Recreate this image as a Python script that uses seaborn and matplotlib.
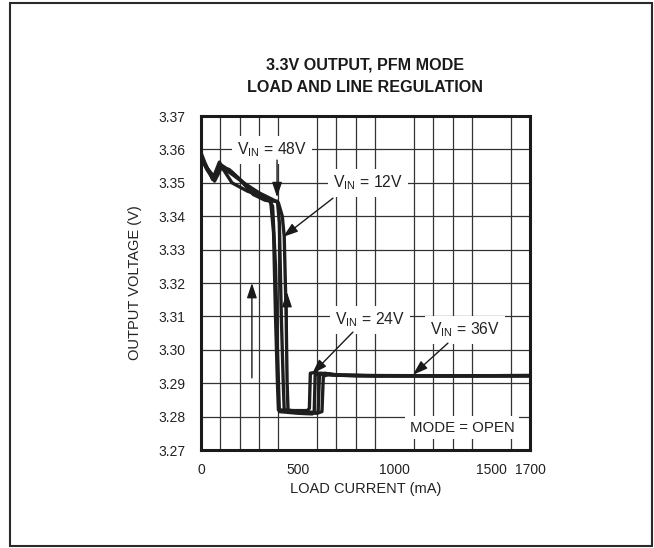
import matplotlib
matplotlib.use("Agg")
import matplotlib.pyplot as plt
import numpy as np
import pandas as pd
import seaborn as sns
from matplotlib.patches import Rectangle

# load current (mA) / output voltage (V) for each input voltage
VIN_12_X = [0, 30, 65, 100, 150, 220, 300, 370, 400, 420, 430, 440, 445, 450, 520, 600, 625, 632, 660, 720, 900, 1300, 1700]
VIN_12_Y = [3.3580, 3.3545, 3.3520, 3.3550, 3.3530, 3.3500, 3.3470, 3.3450, 3.3440, 3.3400, 3.3340, 3.3100,
            3.2900, 3.2815, 3.2812, 3.2810, 3.2815, 3.2920, 3.2928, 3.2924, 3.2922, 3.2922, 3.2923]

VIN_24_X = [0, 20, 60, 95, 110, 160, 240, 320, 360, 375, 385, 395, 400, 480, 550, 560, 565, 590, 650, 800, 1200, 1700]
VIN_24_Y = [3.3590, 3.3560, 3.3510, 3.3562, 3.3545, 3.3500, 3.3475, 3.3458, 3.3445, 3.3350, 3.3100, 3.2900,
            3.2820, 3.2818, 3.2818, 3.2825, 3.2930, 3.2932, 3.2925, 3.2922, 3.2922, 3.2922]

VIN_36_X = [0, 25, 65, 100, 160, 230, 310, 350, 370, 385, 395, 405, 500, 575, 585, 590, 620, 680, 900, 1300, 1700]
VIN_36_Y = [3.3585, 3.3550, 3.3515, 3.3555, 3.3532, 3.3495, 3.3462, 3.3450, 3.3430, 3.3250, 3.3000, 3.2815,
            3.2810, 3.2808, 3.2815, 3.2925, 3.2930, 3.2925, 3.2923, 3.2922, 3.2922]

VIN_48_X = [0, 30, 70, 105, 145, 200, 270, 330, 360, 395, 405, 415, 425, 430, 520, 605, 612, 640, 700, 900, 1300, 1700]
VIN_48_Y = [3.3575, 3.3540, 3.3505, 3.3545, 3.3540, 3.3510, 3.3465, 3.3448, 3.3445, 3.3445, 3.3380, 3.3100,
            3.2900, 3.2820, 3.2815, 3.2812, 3.2925, 3.2930, 3.2924, 3.2922, 3.2922, 3.2923]

SERIES = {"12V": (VIN_12_X, VIN_12_Y), "24V": (VIN_24_X, VIN_24_Y),
          "36V": (VIN_36_X, VIN_36_Y), "48V": (VIN_48_X, VIN_48_Y)}

Y_TICKS = [3.27, 3.28, 3.29, 3.30, 3.31, 3.32, 3.33, 3.34, 3.35, 3.36, 3.37]
X_TICKS = [0, 500, 1000, 1500, 1700]

FONT = ["Liberation Sans Narrow", "Liberation Sans", "DejaVu Sans"]

sns.set_style("white")
plt.rcParams["font.family"] = FONT
plt.rcParams["mathtext.fontset"] = "custom"
plt.rcParams["mathtext.rm"] = "Liberation Sans"
plt.rcParams["mathtext.it"] = "Liberation Sans"

frames = []
for name, (xs, ys) in SERIES.items():
    part = pd.DataFrame({"current": xs, "voltage": ys})
    part["vin"] = name
    frames.append(part)
data = pd.concat(frames, ignore_index=True)

fig = plt.figure(figsize=(6.54, 5.48), dpi=100)
ax = fig.add_axes([201 / 654, 98 / 548, 329 / 654, 334 / 548])

sns.lineplot(data=data, x="current", y="voltage", hue="vin", units="vin", estimator=None, sort=False,
             palette=["#1e1e1e"] * 4, linewidth=2.4, legend=False, ax=ax, zorder=3)

ax.set_xlim(0, 1700)
ax.set_ylim(3.27, 3.37)
ax.set_xticks(X_TICKS)
ax.set_xticks(np.arange(0, 1701, 100), minor=True)
ax.set_yticks(Y_TICKS)
ax.set_yticklabels([f"{t:.2f}" for t in Y_TICKS])
ax.grid(True, which="minor", axis="x", color="#333333", linewidth=0.9)
ax.grid(True, which="major", axis="y", color="#333333", linewidth=0.9)
ax.tick_params(axis="both", which="both", length=0, labelsize=10, colors="#222222")
ax.tick_params(axis="y", pad=11)
ax.tick_params(axis="x", pad=9)
for spine in ax.spines.values():
    spine.set_visible(True)
    spine.set_linewidth(2.2)
    spine.set_color("#1a1a1a")
    spine.set_zorder(5)

ax.set_xlabel("LOAD CURRENT (mA)", fontsize=10.5, color="#222222", labelpad=4)
ax.set_ylabel("OUTPUT VOLTAGE (V)", fontsize=10.5, color="#222222", labelpad=12)

fig.text(365 / 654, 1 - 65 / 548, "3.3V OUTPUT, PFM MODE", ha="center", va="center",
         fontsize=11.6, fontweight="bold", color="#1a1a1a")
fig.text(365 / 654, 1 - 88 / 548, "LOAD AND LINE REGULATION", ha="center", va="center",
         fontsize=11.6, fontweight="bold", color="#1a1a1a")

box = dict(boxstyle="square,pad=0.3", facecolor="white", edgecolor="none")
arrow = dict(arrowstyle="-|>,head_length=0.9,head_width=0.3", color="#1a1a1a", lw=1.0, shrinkA=0, shrinkB=0)

labels = [
    ("V$_{\\rm IN}$ = 48V", (367, 3.3598)),
    ("V$_{\\rm IN}$ = 12V", (863, 3.3499)),
    ("V$_{\\rm IN}$ = 24V", (873, 3.3089)),
    ("V$_{\\rm IN}$ = 36V", (1364, 3.3059)),
]
for text, pos in labels:
    ax.text(pos[0], pos[1], text, ha="center", va="center", fontsize=11.3, color="#222222",
            bbox=box, zorder=6)
ax.text(1349, 3.2766, "MODE = OPEN", ha="center", va="center", fontsize=10.8, color="#222222",
        bbox=box, zorder=6)

pointers = [
    ((393, 3.3568), (393, 3.3457)),
    ((682, 3.3454), (424, 3.3338)),
    ((785, 3.3053), (574, 3.2928)),
    ((1276, 3.3020), (1095, 3.2925)),
    ((263, 3.2916), (263, 3.3200)),
    ((444, 3.3000), (444, 3.3173)),
]
for start, end in pointers:
    ax.annotate("", xy=end, xytext=start, arrowprops=arrow, zorder=7)

fig.add_artist(Rectangle((10 / 654, 2 / 548), 642 / 654, 543 / 548, transform=fig.transFigure,
                         fill=False, edgecolor="#2a2a2a", linewidth=1.5))

fig.savefig("out.png", dpi=100)
